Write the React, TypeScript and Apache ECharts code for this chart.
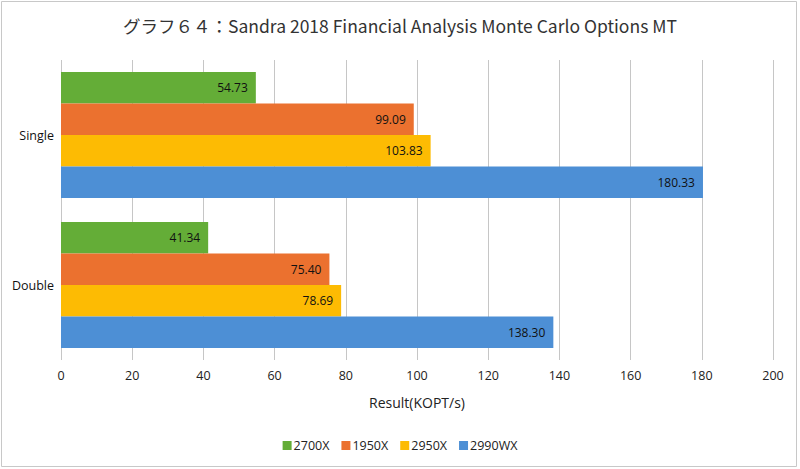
import React, { useEffect, useRef } from "react";
import * as echarts from "echarts";

const categories = ["Double", "Single"];
const seriesNames = ["2700X", "1950X", "2950X", "2990WX"];
const v2700X = [41.34, 54.73];
const v1950X = [75.4, 99.09];
const v2950X = [78.69, 103.83];
const v2990WX = [138.3, 180.33];
const colors = ["#64ad37", "#eb712f", "#fdbb03", "#4d8fd5"];

export default function App() {
  const ref = useRef<HTMLDivElement>(null);
  useEffect(() => {
    if (!ref.current) return;
    const chart = echarts.init(ref.current, undefined, { renderer: "svg" });
    const values = [v2700X, v1950X, v2950X, v2990WX];
    chart.setOption({
      animation: false,
      backgroundColor: "#ffffff",
      title: {
        text: "グラフ６４：Sandra 2018 Financial Analysis Monte Carlo Options MT",
        left: "center",
        top: 12,
        textStyle: {
          fontFamily: "'Noto Sans CJK JP', 'Open Sans', sans-serif",
          fontWeight: "normal",
          fontSize: 17.5,
          color: "#333333",
        },
      },
      graphic: [
        {
          type: "rect",
          shape: { x: 1.5, y: 1.5, width: 795, height: 465 },
          style: { fill: "none", stroke: "#c8c8c8", lineWidth: 1 },
          silent: true,
        },
      ],
      legend: {
        data: seriesNames,
        bottom: 12,
        left: "center",
        itemWidth: 9,
        itemHeight: 9,
        itemGap: 12,
        icon: "rect",
        textStyle: {
          fontFamily: "'Open Sans', sans-serif",
          fontSize: 12.5,
          color: "#222",
          padding: [0, 0, 0, -3],
        },
      },
      grid: { left: 61, right: 27, top: 60, bottom: 109, containLabel: false },
      xAxis: {
        type: "value",
        min: 0,
        max: 200,
        interval: 20,
        name: "Result(KOPT/s)",
        nameLocation: "middle",
        nameGap: 35,
        nameTextStyle: {
          fontFamily: "'Open Sans', sans-serif",
          fontSize: 14,
          color: "#222",
        },
        axisLine: { show: false },
        axisTick: { show: false },
        axisLabel: {
          margin: 9,
          fontFamily: "'Open Sans', sans-serif",
          fontSize: 12.5,
          color: "#222",
        },
        splitLine: { show: true, lineStyle: { color: "#c6c6c6", width: 1 } },
      },
      yAxis: {
        type: "category",
        data: categories,
        axisLine: { show: false },
        axisTick: { show: false },
        axisLabel: {
          margin: 7,
          fontFamily: "'Open Sans', sans-serif",
          fontSize: 12.5,
          color: "#111",
        },
        splitLine: { show: false },
      },
      series: seriesNames.map((name, i) => ({
        name,
        type: "bar",
        data: values[i],
        barGap: "0%",
        barCategoryGap: "16%",
        itemStyle: { color: colors[i] },
        label: {
          show: true,
          position: "insideRight",
          distance: 8,
          formatter: (p: any) => Number(p.value).toFixed(2),
          fontFamily: "'Open Sans', sans-serif",
          fontSize: 12,
          color: "#111",
        },
      })),
    });
    return () => chart.dispose();
  }, []);
  return (
    <div
      ref={ref}
      style={{ position: "absolute", left: 0, top: 0, width: 800, height: 469 }}
    />
  );
}
